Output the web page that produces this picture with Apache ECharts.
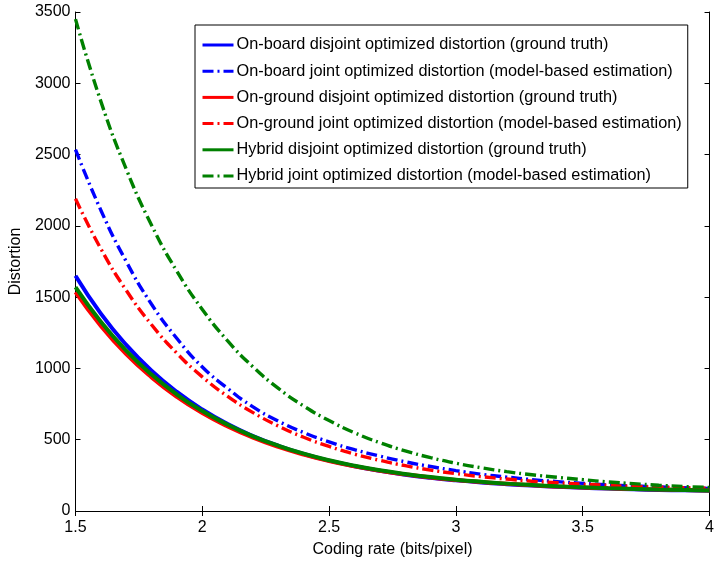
<!DOCTYPE html>
<html>
<head>
<meta charset="utf-8">
<script src="https://cdn.jsdelivr.net/npm/echarts@6/dist/echarts.min.js"></script>
<style>
  html, body { margin: 0; padding: 0; background: #fff; }
  #chart { width: 717px; height: 565px; }
</style>
</head>
<body>
<div id="chart"></div>
<script>
// Coding rate samples (bits/pixel)
const rates = [1.5, 1.6, 1.7, 1.8, 1.9, 2.0, 2.1, 2.2, 2.3, 2.4, 2.5, 2.6, 2.7,
               2.8, 2.9, 3.0, 3.1, 3.2, 3.3, 3.4, 3.5, 3.6, 3.7, 3.8, 3.9, 4.0];

// Distortion per scheme
const onboardDisjoint = [1650, 1384, 1165, 984, 835, 712, 610, 526, 457, 400, 353, 314, 282,
                         255, 233, 215, 200, 188, 178, 170, 163, 157, 152, 148, 145, 142];
const onboardJoint    = [2535, 2110, 1750, 1450, 1210, 1010, 860, 730, 630, 550, 485, 430, 385,
                         345, 312, 283, 258, 238, 220, 206, 194, 184, 176, 169, 163, 158];
const ongroundDisjoint = [1535, 1298, 1100, 937, 800, 687, 593, 515, 450, 396, 351, 314, 283,
                          257, 235, 218, 203, 191, 180, 172, 165, 159, 154, 150, 147, 144];
const ongroundJoint    = [2190, 1839, 1548, 1306, 1106, 941, 804, 690, 596, 517, 453, 399, 355,
                          318, 287, 262, 241, 224, 209, 198, 188, 180, 173, 167, 163, 159];
const hybridDisjoint = [1570, 1327, 1125, 957, 817, 701, 605, 524, 458, 402, 356, 318, 286,
                        260, 238, 220, 205, 192, 182, 173, 166, 160, 155, 150, 147, 144];
const hybridJoint    = [3450, 2873, 2398, 2005, 1681, 1414, 1193, 1011, 860, 736, 634, 549, 479,
                        422, 374, 335, 303, 276, 254, 236, 220, 204, 192, 181, 172, 165];

const yTicks = [0, 500, 1000, 1500, 2000, 2500, 3000, 3500];

const FONT = '"Liberation Sans", Arial, sans-serif';
const FS = 16;
const dashDot = [11, 4, 2, 4];

function pairs(vals) { return rates.map((r, i) => [r, vals[i]]); }

function line(name, vals, color, dashed) {
  return {
    name: name,
    type: 'line',
    data: pairs(vals),
    smooth: true,
    symbol: 'none',
    xAxisIndex: 0,
    yAxisIndex: 0,
    lineStyle: { color: color, width: dashed ? 3.4 : 4, type: dashed ? dashDot : 'solid' },
    itemStyle: { color: color },
    emphasis: { disabled: true }
  };
}

const series = [
  line('On-board disjoint optimized distortion (ground truth)', onboardDisjoint, '#0000ff', false),
  line('On-board joint optimized distortion (model-based estimation)', onboardJoint, '#0000ff', true),
  line('On-ground disjoint optimized distortion (ground truth)', ongroundDisjoint, '#ff0000', false),
  line('On-ground joint optimized distortion (model-based estimation)', ongroundJoint, '#ff0000', true),
  line('Hybrid disjoint optimized distortion (ground truth)', hybridDisjoint, '#008000', false),
  line('Hybrid joint optimized distortion (model-based estimation)', hybridJoint, '#008000', true)
];
// estimates underneath, ground-truth curves on top
const drawn = [series[1], series[3], series[5], series[0], series[2], series[4]];

const axisCommon = {
  axisLine: { show: true, lineStyle: { color: '#000', width: 1 } },
  axisTick: { show: true, inside: true, length: 5, lineStyle: { color: '#000' } },
  splitLine: { show: false }
};

const chart = echarts.init(document.getElementById('chart'), null, { renderer: 'canvas' });
chart.setOption({
  animation: false,
  backgroundColor: '#fff',
  textStyle: { fontFamily: FONT },
  grid: { left: 72, right: 1, top: 12, bottom: 54, containLabel: false },
  legend: {
    data: series.map(s => s.name),
    orient: 'vertical',
    left: 195,
    top: 25,
    padding: [12, 6, 4, 6],
    itemWidth: 31,
    itemHeight: 14,
    itemGap: 10.2,
    backgroundColor: '#fff',
    borderColor: '#000',
    borderWidth: 1,
    borderRadius: 0,
    selectedMode: false,
    itemStyle: { opacity: 0 },
    lineStyle: { width: 3 },
    textStyle: { fontFamily: FONT, fontSize: 16.3, lineHeight: 16, color: '#000', padding: [0, 0, 0, -2] }
  },
  xAxis: [
    Object.assign({}, axisCommon, {
      type: 'value', position: 'bottom', min: 1.5, max: 4, interval: 0.5,
      name: 'Coding rate (bits/pixel)', nameLocation: 'middle', nameGap: 31,
      nameTextStyle: { fontFamily: FONT, fontSize: FS, color: '#000' },
      axisLabel: { fontFamily: FONT, fontSize: FS, color: '#000', margin: 9,
                   formatter: v => String(v) }
    }),
    Object.assign({}, axisCommon, {
      type: 'value', position: 'top', min: 1.5, max: 4, interval: 0.5,
      axisLabel: { show: false }
    })
  ],
  yAxis: [
    Object.assign({}, axisCommon, {
      type: 'value', position: 'left', min: yTicks[0], max: yTicks[yTicks.length - 1], interval: 500,
      name: 'Distortion', nameLocation: 'middle', nameGap: 40, nameRotate: 90,
      nameTextStyle: { fontFamily: FONT, fontSize: FS, color: '#000' },
      axisLabel: { fontFamily: FONT, fontSize: FS, color: '#000', margin: 5,
                   formatter: v => String(v) }
    }),
    Object.assign({}, axisCommon, {
      type: 'value', position: 'right', min: yTicks[0], max: yTicks[yTicks.length - 1], interval: 500,
      axisLabel: { show: false }
    })
  ],
  series: drawn
});
</script>
</body>
</html>
